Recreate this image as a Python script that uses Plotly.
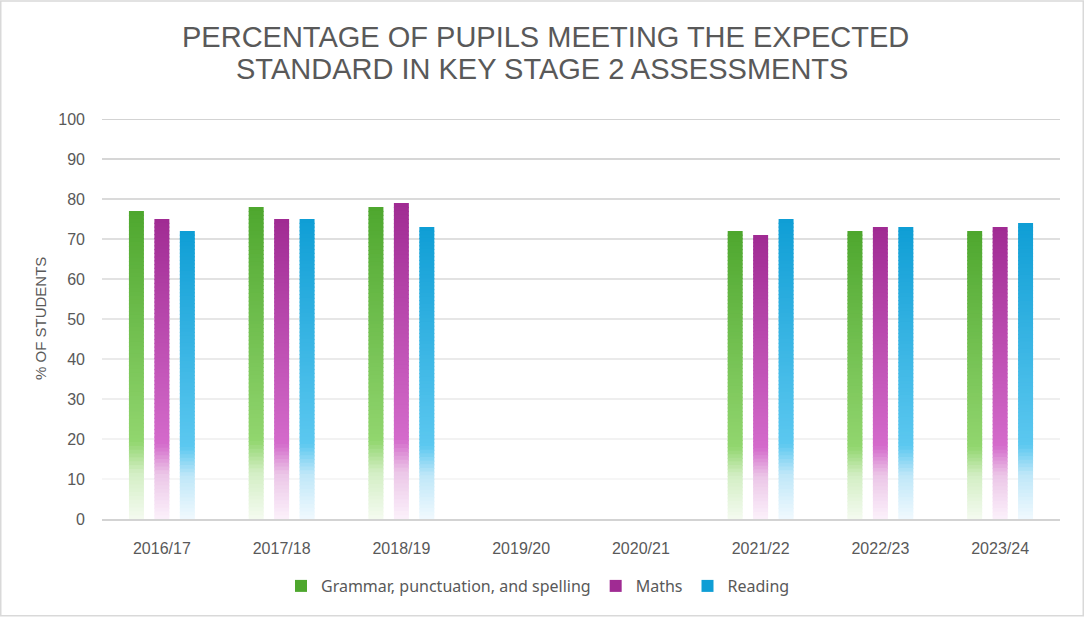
import plotly.graph_objects as go

years = ["2016/17", "2017/18", "2018/19", "2019/20", "2020/21", "2021/22", "2022/23", "2023/24"]
grammar = [77, 78, 78, None, None, 72, 72, 72]
maths = [75, 75, 79, None, None, 71, 73, 73]
reading = [72, 75, 73, None, None, 75, 73, 74]
y_ticks = [0, 10, 20, 30, 40, 50, 60, 70, 80, 90, 100]
title_lines = ["PERCENTAGE OF PUPILS MEETING THE EXPECTED", "STANDARD IN KEY STAGE 2 ASSESSMENTS"]

# gradient stops: (fraction of bar height from bottom, colour)
series = [
    ("Grammar, punctuation, and spelling", grammar, -0.275,
     [(0.0, "#f4fbf0"), (0.15, "#d3eec4"), (0.25, "#92d66f"), (1.0, "#4ea72e")]),
    ("Maths", maths, -0.0625,
     [(0.0, "#fcf1fb"), (0.15, "#ebc6e7"), (0.25, "#d46bcb"), (1.0, "#a02b93")]),
    ("Reading", reading, 0.15,
     [(0.0, "#f0f9fe"), (0.15, "#bfe7f8"), (0.25, "#5cc8f0"), (1.0, "#0f9ed5")]),
]
BAR_W = 0.125
N = 80
OVERLAP = 0.3


def hex2rgb(h):
    h = h.lstrip("#")
    return [int(h[i:i + 2], 16) for i in (0, 2, 4)]


def mix(c0, c1, t):
    a, b = hex2rgb(c0), hex2rgb(c1)
    return "rgb(%d,%d,%d)" % tuple(round(a[k] + (b[k] - a[k]) * t) for k in range(3))


def colour_at(stops, f):
    for (f0, c0), (f1, c1) in zip(stops[:-1], stops[1:]):
        if f0 <= f <= f1:
            return mix(c0, c1, (f - f0) / (f1 - f0))
    return stops[-1][1]


W, H = 1084, 617
ml, mr, mt, mb = 102, 24, 119, 97.5
pw = W - ml - mr
ph = H - mt - mb


def px_x(p):
    return (p - ml) / pw


def px_y(p):
    return (H - mb - p) / ph


fig = go.Figure()
for name, vals, off, stops in series:
    # draw segments from the top of each bar down; each extends slightly below
    for i in range(N):
        f_top = 1 - i / N
        f_bot = 1 - (i + 1) / N
        col = stops[-1][1] if i == 0 else colour_at(stops, (f_top + f_bot) / 2)
        bases, heights = [], []
        for v in vals:
            if v is None:
                bases.append(None)
                heights.append(None)
            else:
                b = max(0.0, v * f_bot - (OVERLAP if i < N - 1 else 0))
                bases.append(b)
                heights.append(v * f_top - b)
        fig.add_trace(go.Bar(
            x=years, y=heights, base=bases,
            name=name, legendgroup=name, showlegend=(i == 0),
            offset=off, width=BAR_W,
            marker=dict(color=col, line=dict(width=0)),
            hoverinfo="skip",
        ))

font_main = "Liberation Sans, Arial, sans-serif"

annotations = [
    dict(text=title_lines[0], xref="paper", yref="paper", x=px_x(545), y=px_y(37),
         xanchor="center", yanchor="middle", showarrow=False,
         font=dict(family=font_main, size=29, color="#595959")),
    dict(text=title_lines[1], xref="paper", yref="paper", x=px_x(542), y=px_y(68.5),
         xanchor="center", yanchor="middle", showarrow=False,
         font=dict(family=font_main, size=29, color="#595959")),
    dict(text="% OF STUDENTS", xref="paper", yref="paper", x=px_x(40), y=0.5,
         xanchor="center", yanchor="middle", textangle=-90, showarrow=False,
         font=dict(family=font_main, size=15, color="#595959")),
]

shapes = []
for t in y_ticks[1:]:
    shapes.append(dict(type="line", xref="paper", yref="y", x0=0, x1=1, y0=t, y1=t,
                       line=dict(color=mix("#f3f3f3", "#c4c4c4", (t - 10) / 90), width=1.5),
                       layer="below"))
shapes.append(dict(
    type="rect", xref="paper", yref="paper",
    x0=px_x(0.75), x1=px_x(W - 0.75), y0=px_y(H - 0.75), y1=px_y(0.75),
    line=dict(color="#d9d9d9", width=1.5), fillcolor="rgba(0,0,0,0)", layer="above",
))

fig.update_layout(
    width=W, height=H,
    margin=dict(l=ml, r=mr, t=mt, b=mb, autoexpand=False),
    paper_bgcolor="white", plot_bgcolor="white",
    barmode="overlay",
    showlegend=True,
    legend=dict(
        orientation="h", xref="container", yref="container",
        x=0.5 - 4 / W, xanchor="center", y=1 - 586 / H, yanchor="middle",
        font=dict(family="Noto Sans, Open Sans, sans-serif", size=16, color="#595959"),
        itemwidth=30, traceorder="normal",
    ),
    xaxis=dict(
        type="category", categoryorder="array", categoryarray=years, range=[-0.5, 7.5],
        showgrid=False, showline=True, linecolor="#d3d3d3", linewidth=1.5,
        ticks="", ticklabelstandoff=14, automargin=False,
        tickfont=dict(family=font_main, size=16, color="#595959"),
    ),
    yaxis=dict(
        range=[0, 100], tickvals=y_ticks, showgrid=False,
        zeroline=False, showline=False, ticks="", ticklabelstandoff=16, automargin=False,
        tickfont=dict(family=font_main, size=16, color="#595959"),
    ),
    annotations=annotations,
    shapes=shapes,
)

fig.write_html(
    "out.html",
    config={"displayModeBar": False},
    post_script="document.body.style.margin='0';document.body.style.overflow='hidden';",
)
